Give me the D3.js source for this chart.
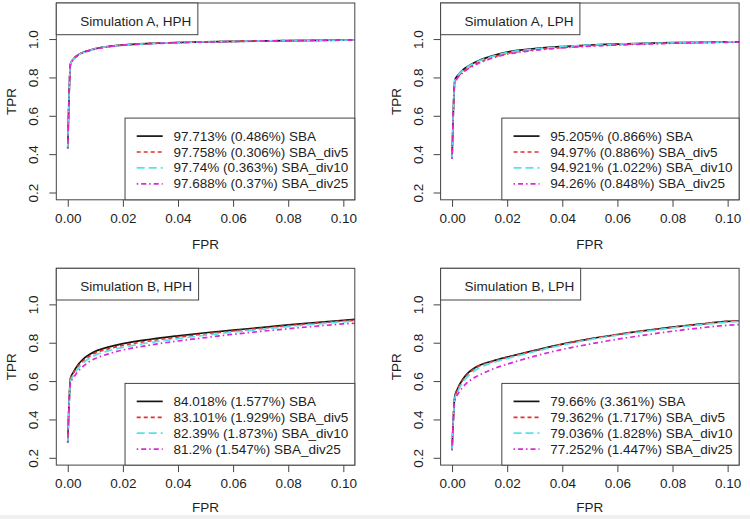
<!DOCTYPE html>
<html>
<head>
<meta charset="utf-8">
<script src="https://cdn.jsdelivr.net/npm/d3@7"></script>
<style>
html,body{margin:0;padding:0;background:#fff;}
svg{display:block;}
text{font-family:"Liberation Sans",Arial,sans-serif;font-size:13.5px;fill:#1e1e1e;}
</style>
</head>
<body>
<svg id="chart" width="750" height="519"></svg>
<script>
// ---------- data ----------
const fpr = [0, 0.001, 0.002, 0.004, 0.006, 0.008, 0.01, 0.015, 0.02, 0.03, 0.04, 0.05, 0.06, 0.07, 0.08, 0.09, 0.10, 0.105];

const seriesNames = ["SBA", "SBA_div5", "SBA_div10", "SBA_div25"];
const seriesColors = ["#141414", "#e3302c", "#55e2ea", "#dc26dc"];
const seriesDash = [null, "4,3", "8,4", "1.5,3,5,3"];

const xTicks = [0, 0.02, 0.04, 0.06, 0.08, 0.10];
const yTicks = [0.2, 0.4, 0.6, 0.8, 1.0];

const titles = ["Simulation A, HPH", "Simulation A, LPH", "Simulation B, HPH", "Simulation B, LPH"];

const legendA_HPH = ["97.713% (0.486%) SBA", "97.758% (0.306%) SBA_div5", "97.74% (0.363%) SBA_div10", "97.688% (0.37%) SBA_div25"];
const legendA_LPH = ["95.205% (0.866%) SBA", "94.97% (0.886%) SBA_div5", "94.921% (1.022%) SBA_div10", "94.26% (0.848%) SBA_div25"];
const legendB_HPH = ["84.018% (1.577%) SBA", "83.101% (1.929%) SBA_div5", "82.39% (1.873%) SBA_div10", "81.2% (1.547%) SBA_div25"];
const legendB_LPH = ["79.66% (3.361%) SBA", "79.362% (1.717%) SBA_div5", "79.036% (1.828%) SBA_div10", "77.252% (1.447%) SBA_div25"];

const tprA_HPH = [
  [0.43, 0.870, 0.895, 0.920, 0.933, 0.942, 0.950, 0.962, 0.969, 0.977, 0.982, 0.985, 0.988, 0.990, 0.992, 0.993, 0.995, 0.995],
  [0.43, 0.870, 0.894, 0.919, 0.932, 0.941, 0.949, 0.961, 0.968, 0.977, 0.982, 0.985, 0.988, 0.990, 0.992, 0.993, 0.995, 0.995],
  [0.43, 0.869, 0.894, 0.919, 0.932, 0.941, 0.949, 0.961, 0.968, 0.976, 0.982, 0.985, 0.988, 0.990, 0.992, 0.993, 0.994, 0.995],
  [0.43, 0.868, 0.893, 0.918, 0.931, 0.940, 0.948, 0.960, 0.968, 0.976, 0.981, 0.985, 0.987, 0.990, 0.991, 0.993, 0.994, 0.995]
];
const tprA_LPH = [
  [0.375, 0.785, 0.810, 0.840, 0.860, 0.877, 0.890, 0.914, 0.932, 0.950, 0.961, 0.969, 0.974, 0.978, 0.981, 0.983, 0.985, 0.986],
  [0.375, 0.775, 0.800, 0.830, 0.850, 0.867, 0.881, 0.906, 0.925, 0.944, 0.956, 0.965, 0.971, 0.976, 0.979, 0.982, 0.984, 0.985],
  [0.375, 0.783, 0.808, 0.838, 0.858, 0.874, 0.887, 0.911, 0.929, 0.948, 0.960, 0.968, 0.973, 0.977, 0.980, 0.983, 0.985, 0.986],
  [0.375, 0.772, 0.797, 0.826, 0.846, 0.862, 0.876, 0.902, 0.921, 0.941, 0.954, 0.963, 0.969, 0.974, 0.978, 0.981, 0.983, 0.984]
];
const tprB_HPH = [
  [0.28, 0.615, 0.645, 0.690, 0.720, 0.740, 0.755, 0.778, 0.795, 0.818, 0.836, 0.852, 0.866, 0.879, 0.893, 0.905, 0.917, 0.922],
  [0.28, 0.610, 0.640, 0.682, 0.711, 0.731, 0.746, 0.769, 0.786, 0.810, 0.829, 0.846, 0.861, 0.875, 0.889, 0.902, 0.913, 0.918],
  [0.28, 0.600, 0.628, 0.670, 0.699, 0.720, 0.735, 0.759, 0.776, 0.801, 0.821, 0.839, 0.855, 0.869, 0.884, 0.897, 0.909, 0.914],
  [0.28, 0.590, 0.616, 0.655, 0.682, 0.703, 0.718, 0.743, 0.762, 0.788, 0.809, 0.827, 0.844, 0.859, 0.873, 0.886, 0.898, 0.902]
];
const tprB_LPH = [
  [0.24, 0.520, 0.560, 0.612, 0.645, 0.667, 0.683, 0.706, 0.725, 0.760, 0.793, 0.820, 0.843, 0.863, 0.881, 0.897, 0.911, 0.915],
  [0.24, 0.515, 0.555, 0.607, 0.640, 0.663, 0.680, 0.704, 0.723, 0.758, 0.792, 0.820, 0.843, 0.863, 0.881, 0.897, 0.911, 0.915],
  [0.24, 0.510, 0.545, 0.595, 0.628, 0.652, 0.670, 0.697, 0.717, 0.754, 0.788, 0.816, 0.839, 0.859, 0.877, 0.893, 0.907, 0.911],
  [0.24, 0.500, 0.530, 0.570, 0.598, 0.617, 0.632, 0.664, 0.688, 0.730, 0.765, 0.793, 0.818, 0.840, 0.860, 0.877, 0.891, 0.895]
];

const panelTpr = [tprA_HPH, tprA_LPH, tprB_HPH, tprB_LPH];
const panelLegend = [legendA_HPH, legendA_LPH, legendB_HPH, legendB_LPH];

// ---------- layout ----------
const svg = d3.select("#chart");
const colLeft = [56.3, 440.6];
const rowTop = [3, 268.3];
const pw = 298.5, ph = 196.8;
const xlabOffset = [45, 42.5];

svg.append("rect").attr("x", 0).attr("y", 515).attr("width", 750).attr("height", 4).attr("fill", "#f0f0f0");

titles.forEach((title, p) => {
  const L = colLeft[p % 2], T = rowTop[Math.floor(p / 2)];
  const R = L + pw, B = T + ph;
  const x = d3.scaleLinear().domain([-0.00416, 0.10416]).range([L, R]);
  const y = d3.scaleLinear().domain([0.162, 1.188]).range([B, T]);
  const g = svg.append("g");

  const clipId = "clip" + p;
  svg.append("clipPath").attr("id", clipId).append("rect")
    .attr("x", L).attr("y", T).attr("width", pw).attr("height", ph);

  // axes
  const xAxis = d3.axisBottom(x).tickValues(xTicks).tickFormat(d3.format(".2f")).tickSize(7).tickPadding(3);
  const gx = g.append("g").attr("transform", `translate(0,${B})`).call(xAxis);
  gx.select(".domain").remove();
  gx.selectAll("line").attr("stroke", "#444");
  gx.selectAll("text").attr("dy", null).attr("y", 18.3).attr("dominant-baseline", "central")
    .style("font-size", "13.5px").style("font-family", '"Liberation Sans",Arial,sans-serif').attr("fill", "#1e1e1e");

  const yAxis = d3.axisLeft(y).tickValues(yTicks).tickFormat(d3.format(".1f")).tickSize(7);
  const gy = g.append("g").attr("transform", `translate(${L},0)`).call(yAxis);
  gy.select(".domain").remove();
  gy.selectAll("line").attr("stroke", "#444");
  gy.selectAll("text")
    .attr("x", null).attr("dy", null)
    .attr("text-anchor", "middle").attr("dominant-baseline", "central")
    .attr("transform", "translate(-22.5,0) rotate(-90)")
    .style("font-size", "13.5px").style("font-family", '"Liberation Sans",Arial,sans-serif').attr("fill", "#1e1e1e");

  // axis titles
  g.append("text").attr("x", (L + R) / 2).attr("y", B + xlabOffset[Math.floor(p / 2)])
    .attr("text-anchor", "middle").attr("dominant-baseline", "central").text("FPR");
  g.append("text").attr("transform", `translate(${L - 44.5},${(T + B) / 2}) rotate(-90)`)
    .attr("text-anchor", "middle").attr("dominant-baseline", "central").text("TPR");

  // curves
  const line = d3.line().x((d, i) => x(fpr[i])).y(d => y(d)).curve(d3.curveMonotoneX);
  const cg = g.append("g").attr("clip-path", `url(#${clipId})`);
  panelTpr[p].forEach((vals, s) => {
    cg.append("path").attr("d", line(vals)).attr("fill", "none")
      .attr("stroke", seriesColors[s]).attr("stroke-width", 1.7)
      .attr("stroke-dasharray", seriesDash[s]);
  });

  // plot box
  g.append("rect").attr("x", L).attr("y", T).attr("width", pw).attr("height", ph)
    .attr("fill", "none").attr("stroke", "#444").attr("stroke-width", 1);

  // title box (top-left)
  const tb = g.append("g");
  const tRect = tb.append("rect").attr("x", L).attr("y", T).attr("height", 31.7)
    .attr("fill", "#fff").attr("stroke", "#444").attr("stroke-width", 1);
  const tText = tb.append("text").attr("x", L + 24).attr("y", T + 23).text(title);
  const tw = tText.node().getComputedTextLength();
  tRect.attr("width", tw + 30.5);

  // legend (bottom-right)
  const lg = g.append("g");
  const lRect = lg.append("rect").attr("fill", "#fff").attr("stroke", "#444").attr("stroke-width", 1);
  const texts = panelLegend[p].map((s, i) => lg.append("text").attr("dominant-baseline", "central").text(s));
  const maxW = d3.max(texts, t => t.node().getComputedTextLength());
  const lLeft = R - (48.4 + maxW + 6.5);
  const lTop = B - 81.7;
  lRect.attr("x", lLeft).attr("y", lTop).attr("width", R - lLeft).attr("height", B - lTop);
  texts.forEach((t, i) => {
    const cy = lTop + 18 + i * 15.9;
    t.attr("x", lLeft + 48.4).attr("y", cy);
    lg.append("line").attr("x1", lLeft + 11.7).attr("x2", lLeft + 37.7)
      .attr("y1", cy).attr("y2", cy)
      .attr("stroke", seriesColors[i]).attr("stroke-width", 1.7)
      .attr("stroke-dasharray", seriesDash[i]);
  });
});
</script>
</body>
</html>
